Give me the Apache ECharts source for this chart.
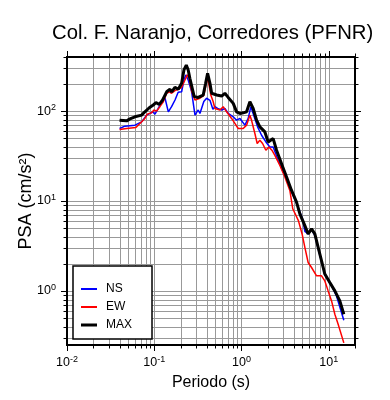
<!DOCTYPE html>
<html>
<head>
<meta charset="utf-8">
<title>PSA - Col. F. Naranjo, Corredores (PFNR)</title>
<script src="https://cdn.jsdelivr.net/npm/echarts@6/dist/echarts.min.js"></script>
<style>
  html, body { margin: 0; padding: 0; background: #fff; }
  #chart { width: 390px; height: 400px; }
</style>
</head>
<body>
<div id="chart"></div>
<script>
const nsPeriod = [0.040, 0.0461, 0.0601, 0.0717, 0.0818, 0.0893, 0.0959, 0.102, 0.111, 0.122, 0.133, 0.145, 0.158, 0.173, 0.188, 0.206, 0.219, 0.230, 0.245, 0.268, 0.293, 0.319, 0.334, 0.370, 0.398, 0.416, 0.435, 0.470, 0.496, 0.532, 0.592, 0.645, 0.704, 0.804, 0.879, 0.959, 1.094, 1.193, 1.281, 1.398, 1.529, 1.699, 1.903, 2.114, 2.307, 2.633, 3.004, 3.426, 3.910, 4.461, 5.012, 5.325, 5.808, 6.353, 6.930, 7.563, 8.271, 9.022, 9.435, 10.77, 12.28, 14.89];
const nsPsa = [64.1, 68.0, 69.8, 75.9, 90.2, 94.2, 98.2, 92.6, 107, 127, 139, 98.2, 112, 133, 162, 164, 222, 253, 222, 165, 90.2, 103, 94.2, 128, 139, 135, 132, 105, 112, 107, 103, 107, 94.2, 86.4, 79.3, 82.9, 69.8, 82.9, 112, 86.4, 66.8, 53.9, 45.4, 39.9, 39.9, 28.4, 21.0, 16.2, 11.5, 8.53, 6.32, 4.6, 4.30, 4.8, 4.15, 2.95, 2.10, 1.52, 1.41, 1.14, 0.879, 0.471];

const ewPeriod = [0.040, 0.0483, 0.0616, 0.0685, 0.0781, 0.0832, 0.0933, 0.0992, 0.1065, 0.116, 0.127, 0.139, 0.149, 0.158, 0.173, 0.188, 0.206, 0.225, 0.239, 0.252, 0.268, 0.293, 0.300, 0.334, 0.370, 0.409, 0.445, 0.474, 0.496, 0.566, 0.617, 0.675, 0.770, 0.840, 0.917, 1.046, 1.144, 1.248, 1.305, 1.424, 1.513, 1.625, 1.745, 1.903, 2.06, 2.23, 2.413, 2.754, 3.141, 3.583, 3.87, 4.49, 4.95, 5.325, 5.808, 6.353, 7.250, 8.271, 9.022, 9.843, 10.77, 11.75, 12.82, 14.89];
const ewPsa = [62.4, 64.1, 65.8, 72.9, 82.9, 92.6, 95.7, 103, 100, 112, 127, 158, 164, 158, 169, 175, 184, 222, 253, 232, 167, 133, 133, 139, 150, 240, 151, 127, 107, 103, 112, 98.2, 82.9, 72.9, 64.1, 64.1, 69.8, 90.2, 79.0, 56.3, 43.6, 47.4, 43.6, 36.7, 39.9, 36.7, 32.2, 24.9, 18.5, 13.1, 8.2, 6.05, 4.3, 3.05, 2.07, 1.82, 1.47, 1.47, 1.29, 1.0, 0.773, 0.549, 0.425, 0.264];

const maxPeriod = [0.040, 0.0483, 0.0527, 0.0601, 0.0717, 0.0781, 0.0877, 0.0974, 0.1046, 0.1141, 0.1248, 0.1387, 0.1514, 0.1583, 0.1726, 0.1883, 0.206, 0.219, 0.233, 0.245, 0.256, 0.287, 0.319, 0.364, 0.388, 0.409, 0.435, 0.455, 0.519, 0.592, 0.645, 0.704, 0.804, 0.879, 0.959, 1.046, 1.144, 1.248, 1.361, 1.489, 1.625, 1.854, 2.022, 2.307, 2.523, 2.879, 3.285, 3.748, 4.276, 4.667, 5.325, 5.808, 6.353, 6.930, 7.563, 8.271, 9.022, 10.29, 11.75, 13.40, 14.89];
const maxPsa = [79.3, 77.9, 82.0, 86.4, 90.2, 98.2, 109, 117, 124, 119, 133, 164, 175, 164, 184, 175, 204, 287, 325, 287, 232, 145, 142, 151, 204, 264, 204, 158, 151, 147, 158, 142, 122, 98.2, 94.2, 95.7, 98.2, 127, 107, 79.3, 66.8, 58.7, 45.4, 49.5, 36.7, 26.0, 18.5, 13.1, 9.70, 7.19, 5.32, 4.30, 4.89, 4.30, 3.05, 2.16, 1.54, 1.24, 1.0, 0.773, 0.549];

// Lineas de la reticula (1..9 por decada)
const xTicks = [0.01, 0.02, 0.03, 0.04, 0.05, 0.06, 0.07, 0.08, 0.09, 0.1, 0.2, 0.3, 0.4, 0.5, 0.6, 0.7, 0.8, 0.9, 1, 2, 3, 4, 5, 6, 7, 8, 9, 10, 20];
const yTicks = [0.3, 0.4, 0.5, 0.6, 0.7, 0.8, 0.9, 1, 2, 3, 4, 5, 6, 7, 8, 9, 10, 20, 30, 40, 50, 60, 70, 80, 90, 100, 200, 300, 400];

const xMin = 0.01, xMax = 20, yMin = 0.25, yMax = 400;
const FONT = "Liberation Sans";

const pairs = (t, v) => t.map((p, i) => [p, v[i]]);
const isPow10 = v => {
  const e = Math.log10(v);
  return Math.abs(e - Math.round(e)) < 1e-6;
};

const tickData = [
  ...xTicks.map(v => [v, yMin, 0, isPow10(v) ? 1 : 0]),
  ...yTicks.map(v => [xMin, v, 1, isPow10(v) ? 1 : 0])
];

const powLabel = value => {
  if (!isPow10(value)) return "";
  return "{b|10}{e|" + Math.round(Math.log10(value)) + "}";
};

const labelRich = {
  b: { fontFamily: FONT, fontSize: 12.5, lineHeight: 16, color: "#000" },
  e: { fontFamily: FONT, fontSize: 9, lineHeight: 9, verticalAlign: "top", color: "#000" }
};

const seg = (x1, y1, x2, y2, style) => ({
  type: "line",
  shape: { x1, y1, x2, y2 },
  style
});

const renderGrid = (params, api) => {
  const isX = api.value(2) === 0;
  const len = api.value(3) === 1 ? 6 : 3.5;
  const v = isX ? api.value(0) : api.value(1);
  const lo = api.coord(isX ? [v, yMin] : [xMin, v]);
  const hi = api.coord(isX ? [v, yMax] : [xMax, v]);
  const gridStyle = { stroke: "#999", lineWidth: 1 };
  const tickStyle = { stroke: "#000", lineWidth: 1 };
  if (isX) {
    const x = Math.round(lo[0]) + 0.5;
    return {
      type: "group",
      children: [
        seg(x, hi[1], x, lo[1], gridStyle),
        seg(x, lo[1], x, lo[1] + len, tickStyle),
        seg(x, hi[1], x, hi[1] - len, tickStyle)
      ]
    };
  }
  const y = Math.round(lo[1]) + 0.5;
  return {
    type: "group",
    children: [
      seg(lo[0], y, hi[0], y, gridStyle),
      seg(lo[0], y, lo[0] - len, y, tickStyle),
      seg(hi[0], y, hi[0] + len, y, tickStyle)
    ]
  };
};

const frameLine = { show: true, lineStyle: { color: "#000", width: 2, cap: "square" } };

const chart = echarts.init(document.getElementById("chart"));

const option = {
  animation: false,
  textStyle: { fontFamily: FONT },
  title: {
    text: "Col. F. Naranjo, Corredores (PFNR)",
    left: 52,
    top: 23,
    padding: 0,
    textStyle: { fontFamily: FONT, fontSize: 20.3, fontWeight: "normal", color: "#000" }
  },
  legend: {
    data: [
      { name: "NS", icon: "path://M0,0H16V2H0Z" },
      { name: "EW", icon: "path://M0,0H16V2H0Z" },
      { name: "MAX", icon: "path://M0,0H16V3H0Z" }
    ],
    orient: "vertical",
    left: 73,
    top: 266,
    itemWidth: 16,
    itemHeight: 14,
    itemGap: 6,
    padding: [17, 20, 8, 8],
    backgroundColor: "#fff",
    borderColor: "#000",
    borderWidth: 1.5,
    borderRadius: 0,
    textStyle: { fontFamily: FONT, fontSize: 12, color: "#000", padding: [0, 0, 0, 4] }
  },
  grid: { left: 67, top: 57, width: 288, height: 288 },
  xAxis: [
    {
      type: "log",
      logBase: 10,
      min: xMin,
      max: xMax,
      position: "bottom",
      z: 10,
      name: "Periodo (s)",
      nameLocation: "middle",
      nameGap: 29,
      nameTextStyle: { fontFamily: FONT, fontSize: 16, color: "#000" },
      axisLine: frameLine,
      axisTick: { show: false },
      splitLine: { show: false },
      axisLabel: { margin: 10, formatter: powLabel, rich: labelRich }
    },
    {
      type: "log",
      logBase: 10,
      min: xMin,
      max: xMax,
      position: "top",
      z: 10,
      axisLine: frameLine,
      axisTick: { show: false },
      splitLine: { show: false },
      axisLabel: { show: false }
    }
  ],
  yAxis: [
    {
      type: "log",
      logBase: 10,
      min: yMin,
      max: yMax,
      position: "left",
      z: 10,
      name: "PSA (cm/s²)",
      nameLocation: "middle",
      nameGap: 32,
      nameMoveOverlap: false,
      nameTextStyle: { fontFamily: FONT, fontSize: 18, color: "#000" },
      axisLine: frameLine,
      axisTick: { show: false },
      splitLine: { show: false },
      axisLabel: { margin: 11, formatter: powLabel, rich: labelRich }
    },
    {
      type: "log",
      logBase: 10,
      min: yMin,
      max: yMax,
      position: "right",
      z: 10,
      axisLine: frameLine,
      axisTick: { show: false },
      splitLine: { show: false },
      axisLabel: { show: false }
    }
  ],
  series: [
    {
      type: "custom",
      name: "grid",
      silent: true,
      clip: false,
      z: 1,
      xAxisIndex: 0,
      yAxisIndex: 0,
      encode: { x: 0, y: 1 },
      data: tickData,
      renderItem: renderGrid
    },
    {
      name: "NS",
      type: "line",
      z: 3,
      symbol: "none",
      color: "#0000ff",
      lineStyle: { color: "#0000ff", width: 1.5 },
      data: pairs(nsPeriod, nsPsa)
    },
    {
      name: "EW",
      type: "line",
      z: 3,
      symbol: "none",
      color: "#ff0000",
      lineStyle: { color: "#ff0000", width: 1.5 },
      data: pairs(ewPeriod, ewPsa)
    },
    {
      name: "MAX",
      type: "line",
      z: 3,
      symbol: "none",
      color: "#000",
      lineStyle: { color: "#000", width: 3 },
      data: pairs(maxPeriod, maxPsa)
    }
  ]
};

chart.setOption(option);
window.addEventListener("resize", () => chart.resize());
</script>
</body>
</html>
